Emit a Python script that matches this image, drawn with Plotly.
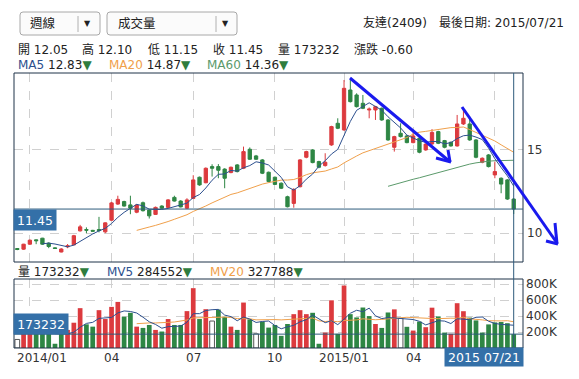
import plotly.graph_objects as go
import pandas as pd

# ---------------- data (weekly candles) ----------------
open_ = [9.08, 9.04, 9.34, 9.60, 9.70, 9.40, 9.12, 8.87, 9.18, 9.30,
         10.14, 10.22, 10.17, 10.22, 10.08, 10.78, 11.75, 11.90, 11.70, 11.26,
         11.83, 11.39, 11.13, 11.63, 11.55, 12.15, 11.93, 11.50, 12.09, 13.36,
         13.03, 14.00, 14.00, 13.85, 13.64, 14.10, 13.90, 15.04, 14.64, 14.40,
         13.66, 13.36, 13.00, 12.19, 11.79, 12.79, 14.56, 15.00, 14.30, 14.06,
         15.30, 16.60, 16.20, 18.60, 18.30, 17.80, 17.40, 17.40, 17.50, 16.80,
         15.16, 16.00, 15.84, 15.44, 15.70, 15.00, 15.36, 16.10, 15.56, 15.46,
         15.24, 16.56, 16.56, 15.60, 14.26, 14.70, 13.50, 13.30, 13.20, 12.05]
high = [9.10, 9.36, 9.62, 9.62, 9.72, 9.45, 9.15, 9.10, 9.35, 9.90,
        10.50, 10.35, 10.20, 10.98, 10.65, 11.88, 12.25, 11.95, 12.25, 11.75,
        11.90, 11.42, 11.60, 11.68, 12.05, 12.25, 11.98, 12.10, 13.48, 13.40,
        13.95, 14.14, 14.15, 13.90, 14.00, 14.15, 15.20, 15.15, 14.70, 14.45,
        13.70, 13.40, 13.05, 12.25, 12.70, 14.45, 14.95, 15.05, 14.35, 14.80,
        16.45, 16.90, 19.20, 19.20, 18.40, 18.30, 17.55, 17.65, 17.55, 16.85,
        15.85, 16.60, 15.90, 16.20, 15.75, 15.40, 16.25, 16.15, 15.60, 15.50,
        17.10, 17.45, 17.00, 15.65, 14.55, 14.75, 14.30, 13.35, 13.25, 12.10]
low = [8.98, 9.00, 9.30, 9.34, 9.30, 9.10, 9.05, 8.85, 9.10, 9.28,
       10.10, 10.00, 10.10, 10.05, 10.00, 10.75, 11.70, 11.60, 11.14, 11.20,
       11.30, 10.88, 11.10, 11.45, 11.50, 11.90, 11.55, 11.45, 12.05, 12.85,
       13.00, 13.40, 13.30, 12.70, 13.60, 13.65, 13.85, 14.40, 14.40, 13.55,
       13.05, 12.90, 12.65, 11.55, 11.53, 12.75, 14.50, 14.20, 13.90, 14.00,
       15.25, 16.25, 16.15, 17.85, 17.55, 17.45, 16.90, 16.80, 16.75, 15.55,
       14.90, 15.75, 15.40, 15.40, 14.80, 14.95, 15.30, 15.35, 15.10, 15.20,
       15.20, 16.50, 15.55, 14.50, 14.20, 13.95, 13.30, 12.40, 12.00, 11.15]
close = [9.02, 9.34, 9.58, 9.55, 9.34, 9.20, 9.08, 9.05, 9.24, 9.85,
         10.38, 10.18, 10.12, 10.16, 10.62, 11.82, 12.03, 11.63, 11.50, 11.69,
         11.35, 11.04, 11.55, 11.50, 12.00, 11.93, 11.58, 12.00, 13.20, 12.90,
         13.90, 13.90, 13.78, 13.30, 13.96, 13.70, 14.90, 14.44, 14.44, 13.60,
         13.10, 12.93, 12.70, 11.59, 12.63, 14.40, 14.90, 14.24, 13.96, 14.26,
         16.40, 16.30, 18.70, 17.90, 17.60, 17.50, 17.45, 17.60, 16.80, 15.60,
         15.80, 15.80, 15.44, 15.84, 14.86, 15.35, 16.05, 15.40, 15.16, 15.24,
         16.56, 16.90, 15.60, 14.56, 14.50, 14.00, 13.70, 12.95, 12.05, 11.45]
volume = [107000, 250000, 230000, 220000, 200000, 195000, 53000, 200000, 226000, 316000,
          498000, 296000, 267000, 473000, 362000, 514000, 576000, 391000, 440000, 267000,
          251000, 288000, 226000, 206000, 362000, 288000, 288000, 461000, 748000, 362000,
          485000, 337000, 481000, 391000, 267000, 226000, 568000, 358000, 177000, 329000,
          255000, 288000, 152000, 300000, 423000, 473000, 423000, 440000, 53000, 193000,
          596000, 177000, 781000, 423000, 382000, 506000, 399000, 300000, 251000, 444000,
          483000, 370000, 265000, 218000, 330000, 260000, 504000, 395000, 193000, 177000,
          560000, 460000, 380000, 345000, 193000, 295000, 320000, 325000, 310000, 173232]
prev_close_first = 9.02

tick_idx = [2, 15, 28, 41, 52, 63, 76]
tick_text = ["2014/01", "04", "07", "10", "2015/01", "04", ""]   # last one hidden by the date box
last_date = "2015 07/21"

price_ticks = [10, 15]
vol_ticks = [200000, 400000, 600000, 800000]
vol_tick_text = ["200K", "400K", "600K", "800K"]

hdr_ohlc = [("開", "12.05"), ("高", "12.10"), ("低", "11.15"), ("收", "11.45"),
            ("量", "173232"), ("漲跌", "-0.60")]
hdr_ma = [("MA5", "12.83"), ("MA20", "14.87"), ("MA60", "14.36")]
hdr_vol = [("量", "173232"), ("MV5", "284552"), ("MV20", "327788")]
title_right = "友達(2409)　最後日期: 2015/07/21"
sel1, sel2 = "週線", "成交量"

# ---------------- derived ----------------
idx = list(range(len(close)))
cs = pd.Series(close)
vs = pd.Series(volume)
ma5, ma20, ma60 = cs.rolling(5).mean(), cs.rolling(20).mean(), cs.rolling(60).mean()
mv5, mv20 = vs.rolling(5).mean(), vs.rolling(20).mean()
prev = [prev_close_first] + close[:-1]

RED, GREEN = "#dc3a3e", "#2e8644"
C_MA5, C_MA20, C_MA60 = "#2c4f8e", "#f0a04b", "#5b9a6b"
vfill, vline, vlw = [], [], []
for c, p in zip(close, prev):
    if c > p:
        vfill.append(RED); vline.append(RED); vlw.append(0)
    elif c < p:
        vfill.append(GREEN); vline.append(GREEN); vlw.append(0)
    else:
        vfill.append("white"); vline.append("#555555"); vlw.append(1)

# ---------------- pixel helpers for layout decorations ----------------
L, R, T, B = 14, 523, 73, 348
def PX(x): return (x - L) / (R - L)
def PY(y): return (B - y) / (B - T)

FONT = "DejaVu Sans, Noto Sans CJK TC, sans-serif"
TXT = "#222222"

fig = go.Figure()
fig.add_trace(go.Candlestick(
    x=idx, open=open_, high=high, low=low, close=close, xaxis="x2", yaxis="y",
    increasing=dict(line=dict(color=RED, width=1), fillcolor=RED),
    decreasing=dict(line=dict(color=GREEN, width=1), fillcolor=GREEN),
    whiskerwidth=0, hoverinfo="skip"))
for s, c in [(ma60, C_MA60), (ma20, C_MA20), (ma5, C_MA5)]:
    fig.add_trace(go.Scatter(x=idx, y=s, mode="lines", line=dict(color=c, width=1),
                             xaxis="x2", yaxis="y", hoverinfo="skip"))
fig.add_trace(go.Bar(x=idx, y=volume, xaxis="x", yaxis="y2", width=0.75,
                     marker=dict(color=vfill, line=dict(color=vline, width=vlw)),
                     hoverinfo="skip"))
for s, c in [(mv20, C_MA20), (mv5, C_MA5)]:
    fig.add_trace(go.Scatter(x=idx, y=s, mode="lines", line=dict(color=c, width=1),
                             xaxis="x", yaxis="y2", hoverinfo="skip"))

xr = [-0.525, 80.48]
grid = dict(showgrid=True, gridcolor="#d0d0d0", griddash="dash", gridwidth=1,
            zeroline=False, showline=False)
fig.update_layout(
    width=579, height=379, margin=dict(l=L, r=579 - R, t=T, b=379 - B),
    paper_bgcolor="white", plot_bgcolor="white", showlegend=False, boxgap=0.25,
    bargap=0.25,
    font=dict(family=FONT, size=12, color=TXT),
    xaxis=dict(domain=[0, 1], anchor="y2", range=xr, tickvals=tick_idx,
               showticklabels=False, ticks="", **grid),
    xaxis2=dict(domain=[0, 1], anchor="y", matches="x", range=xr, tickvals=tick_idx,
                showticklabels=False, ticks="", rangeslider=dict(visible=False), **grid),
    yaxis=dict(domain=[PY(262), 1], side="right", range=[8.27, 19.62],
               tickvals=price_ticks, ticks="", ticklabelstandoff=3,
               tickfont=dict(size=12, color="#333"), **grid),
    yaxis2=dict(domain=[0, PY(279)], side="right", range=[0, 862500],
                tickvals=vol_ticks, ticktext=vol_tick_text, ticks="", ticklabelstandoff=2,
                tickfont=dict(size=12, color="#333"), **grid),
)

shapes = []
BORDER = "#1f3349"
# panel borders
shapes.append(dict(type="rect", xref="paper", yref="y domain", x0=0, x1=1, y0=0, y1=1,
                   line=dict(color=BORDER, width=1), layer="above"))
shapes.append(dict(type="rect", xref="paper", yref="y2 domain", x0=0, x1=1, y0=0, y1=1,
                   line=dict(color=BORDER, width=1), layer="above"))
# crosshair
CROSS = "#2e5b7c"
shapes.append(dict(type="line", xref="paper", yref="y", x0=0, x1=1, y0=close[-1], y1=close[-1],
                   line=dict(color=CROSS, width=1), layer="above"))
shapes.append(dict(type="line", xref="paper", yref="y2", x0=0, x1=1, y0=volume[-1], y1=volume[-1],
                   line=dict(color=CROSS, width=1), layer="above"))
shapes.append(dict(type="line", xref="x", yref="paper", x0=idx[-1], x1=idx[-1], y0=0, y1=1,
                   line=dict(color=CROSS, width=1), layer="above"))

# dropdown boxes
def rrect(x0, y0, x1, y1, r=3):
    rx = r / (R - L); ry = r / (B - T)
    a, b, c, d = PX(x0), PY(y1), PX(x1), PY(y0)
    return (f"M {a+rx},{b} L {c-rx},{b} Q {c},{b} {c},{b+ry} L {c},{d-ry} Q {c},{d} {c-rx},{d} "
            f"L {a+rx},{d} Q {a},{d} {a},{d-ry} L {a},{b+ry} Q {a},{b} {a+rx},{b} Z")
for (x0, x1, xd) in [(20, 100, 78), (107, 237, 216)]:
    shapes.append(dict(type="path", xref="paper", yref="paper", path=rrect(x0, 12, x1, 35),
                       line=dict(color="#a8a8a8", width=1), fillcolor="#fbfbfb"))
    shapes.append(dict(type="line", xref="paper", yref="paper", x0=PX(xd), x1=PX(xd),
                       y0=PY(16), y1=PY(32), line=dict(color="#b0b0b0", width=1)))

# hand drawn blue arrows
BLUE = "#1a1aee"
for (x0, y0, x1, y1) in [(350, 78, 449, 161), (436, 158, 451, 162), (448, 150, 450, 162),
                         (462, 107, 557, 243), (555, 223, 557, 244), (546, 241, 558, 244)]:
    shapes.append(dict(type="line", xref="paper", yref="paper", x0=PX(x0), y0=PY(y0),
                       x1=PX(x1), y1=PY(y1), line=dict(color=BLUE, width=3), layer="above"))

anns = []
def text(x, y, s, xanchor="left", size=12, color=TXT):
    anns.append(dict(xref="paper", yref="paper", x=PX(x), y=PY(y), text=s, showarrow=False,
                     xanchor=xanchor, yanchor="middle", font=dict(size=size, color=color,
                     family=FONT)))

text(28, 24, sel1, size=12.5)
text(116, 24, sel2, size=12.5)
text(87.5, 24, "▼", xanchor="center", size=8)
text(225, 24, "▼", xanchor="center", size=8)
text(566, 23, title_right, xanchor="right")

for (lab, val), x in zip(hdr_ohlc, [16, 80, 146, 211, 276, 352]):
    text(x, 50, f"{lab} {val}")
TRI = '<span style="color:#2e7d3e">▼</span>'
for (lab, val), x, c in zip(hdr_ma, [16, 107, 205], [C_MA5, C_MA20, C_MA60]):
    text(x, 65, f'<span style="color:{c}">{lab}</span> {val}{TRI}')
for (lab, val), x, c in zip(hdr_vol, [16, 105, 208], [TXT, C_MA5, C_MA20]):
    text(x, 272, f'<span style="color:{c}">{lab}</span> {val}{TRI}')

# x tick labels
for i, (ti, tt) in enumerate(zip(tick_idx, tick_text)):
    if not tt:
        continue
    anns.append(dict(xref="x", yref="paper", x=ti, y=PY(357.5), text=tt, showarrow=False,
                     xanchor="center", yanchor="middle", xshift=12 if i == 0 else 0,
                     font=dict(size=12, color="#333", family=FONT)))

# value boxes
BOX = "#3470a8"
def box(cx, cy, w, h, s):
    anns.append(dict(xref="paper", yref="paper", x=PX(cx), y=PY(cy), text=s, showarrow=False,
                     xanchor="center", yanchor="middle", width=w, height=h, bgcolor=BOX,
                     borderpad=0, font=dict(size=12.5, color="white", family=FONT)))
box(35, 219.5, 42, 20, f"{close[-1]:.2f}")
box(41, 324, 54, 20, f"{volume[-1]}")
box(484, 357, 78, 18, last_date)

fig.update_layout(shapes=shapes, annotations=anns)
fig.write_html("out.html")
